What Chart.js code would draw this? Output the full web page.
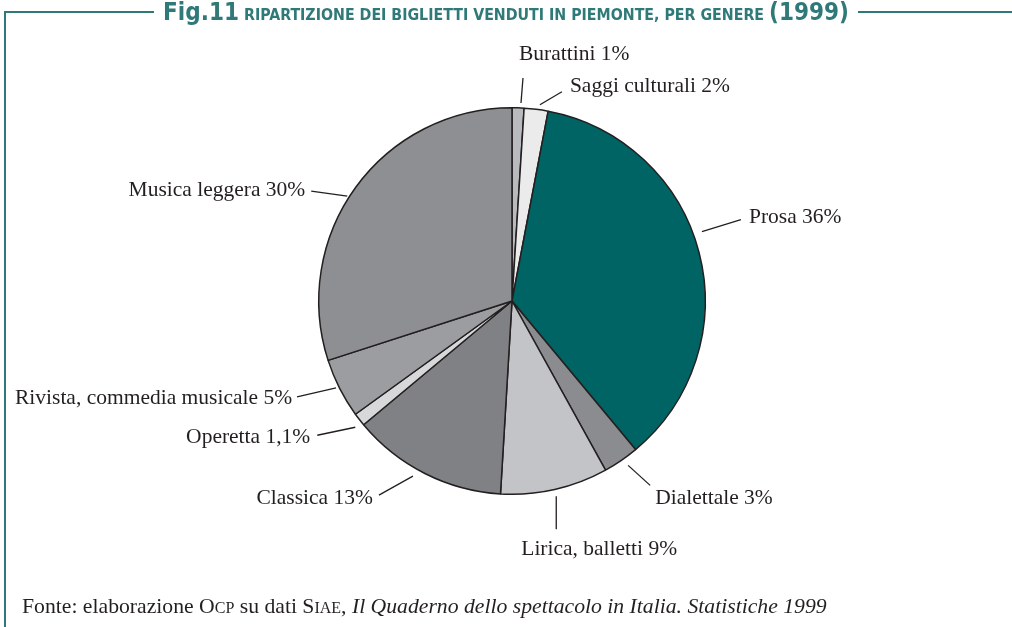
<!DOCTYPE html>
<html lang="it">
  <head>
    <meta charset="UTF-8" />
    <title>Fig.11</title>
    <script src="https://cdn.jsdelivr.net/npm/chart.js"></script>
    <style>
      body { margin: 0; background: #fff; }
      #wrap { position: relative; width: 1012px; height: 627px; overflow: hidden; }
      #frame {
        position: absolute; left: 4px; top: 11px; width: 1100px; height: 700px;
        border-top: 2px solid #2f7a78; border-left: 2px solid #2f7a78;
      }
      #title {
        position: absolute; top: -2px; left: 0; width: 1012px; text-align: center;
        font-family: "DejaVu Sans Condensed", "DejaVu Sans", sans-serif; font-weight: bold;
        color: #2f7a78; white-space: nowrap;
      }
      #title span.t { background: #fff; padding: 0 9px; }
      #title .big { font-size: 24px; }
      #title .sm { font-size: 15.8px; }
      #chartBox { position: absolute; left: 0; top: 0; width: 1012px; height: 627px; }
      #fonte {
        position: absolute; left: 22px; top: 594px;
        font-family: "Liberation Serif", serif; font-size: 21.7px; color: #231f20; white-space: nowrap;
      }
      #fonte .sc { font-size: 16px; }
    </style>
  </head>
  <body>
    <div id="wrap">
      <div id="frame"></div>
      <div id="chartBox"><canvas id="myChart"></canvas></div>
      <div id="title"><span class="t"><span class="big">Fig.11</span> <span class="sm">RIPARTIZIONE DEI BIGLIETTI VENDUTI IN PIEMONTE, PER GENERE</span> <span class="big">(1999)</span></span></div>
      <div id="fonte">Fonte: elaborazione O<span class="sc">CP</span> su dati S<span class="sc">IAE</span>, <i>Il Quaderno dello spettacolo in Italia. Statistiche 1999</i></div>
    </div>
  </body>
  <script>
    // dati (in senso orario dall'alto)
    const generi = ["Burattini", "Saggi culturali", "Prosa", "Dialettale", "Lirica, balletti",
      "Classica", "Operetta", "Rivista, commedia musicale", "Musica leggera"];
    const quote = [1, 2, 36, 3, 9, 13, 1.1, 5, 30];
    const etichette = ["1%", "2%", "36%", "3%", "9%", "13%", "1,1%", "5%", "30%"];

    const colori = ["#b8babd", "#ebebeb", "#006464", "#8b8c8f", "#c3c4c7",
      "#808185", "#d7d8da", "#9c9da0", "#8e8f92"];

    // linee di richiamo: [dx, dy] della linea, [dx, dy] del testo, allineamento
    const richiami = [
      [[2, -25], [-4, -24], "left"],
      [[22, -13], [8, -5], "left"],
      [[39, -12], [8, -2], "left"],
      [[22, 20], [5, 13], "left"],
      [[0, 33], [-35, 20], "left"],
      [[-34, 19], [-6, 3], "right"],
      [[-38, 8], [-7, 2], "right"],
      [[-39, 9], [-5, 1], "right"],
      [[-36, -5], [-6, -1], "right"],
    ];
    // piccoli aggiustamenti del punto di partenza (gradi, distanza dal bordo)
    const spostaAngolo = [0.8, 0.9, -5.6, -0.9, 0, 2.7, -1, 0.6, -3.6];
    const distacco = [5, 5, 9, 8, 7, 8, 8, 3, 2];

    const pluginEtichette = {
      id: "etichette",
      afterDatasetsDraw(chart) {
        const c = chart.ctx;
        const meta = chart.getDatasetMeta(0);
        c.save();
        c.strokeStyle = "#231f20";
        c.lineWidth = 1.3;
        c.fillStyle = "#231f20";
        c.font = '21.5px "Liberation Serif", serif';
        c.textBaseline = "middle";
        meta.data.forEach((arc, i) => {
          const p = arc.getProps(["x", "y", "startAngle", "endAngle", "outerRadius"], true);
          const mid = (p.startAngle + p.endAngle) / 2 + spostaAngolo[i] * Math.PI / 180;
          const r = p.outerRadius + distacco[i];
          const x0 = p.x + Math.cos(mid) * r;
          const y0 = p.y + Math.sin(mid) * r;
          const [lin, txt, al] = richiami[i];
          const x1 = x0 + lin[0], y1 = y0 + lin[1];
          c.beginPath();
          c.moveTo(x0, y0);
          c.lineTo(x1, y1);
          c.stroke();
          c.textAlign = al;
          c.fillText(generi[i] + " " + etichette[i], x1 + txt[0], y1 + txt[1]);
        });
        c.restore();
      },
    };

    const ctx = document.querySelector("#myChart");
    new Chart(ctx, {
      type: "pie",
      data: {
        labels: generi,
        datasets: [{
          data: quote,
          backgroundColor: colori,
          borderColor: "#231f20",
          borderWidth: 1.5,
        }],
      },
      options: {
        responsive: true,
        maintainAspectRatio: false,
        animation: false,
        layout: { padding: { top: 107, bottom: 132, left: 318, right: 306 } },
        plugins: {
          legend: { display: false },
          tooltip: { enabled: false },
        },
      },
      plugins: [pluginEtichette],
    });
  </script>
</html>
